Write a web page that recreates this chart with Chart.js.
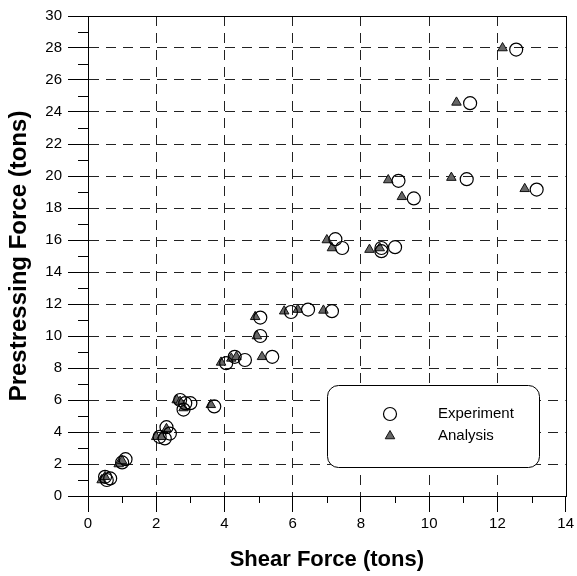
<!DOCTYPE html>
<html>
<head>
<meta charset="utf-8">
<script src="https://cdn.jsdelivr.net/npm/chart.js@4.4.1/dist/chart.umd.min.js"></script>
<style>
  html, body { margin: 0; padding: 0; background: #fff; }
  #wrap { width: 577px; height: 576px; }
</style>
</head>
<body>
<div id="wrap"><canvas id="shearChart" width="577" height="576"></canvas></div>
<script>
// values (tons)
const expShear = [0.5, 0.65, 0.55, 1.0, 1.1, 2.1, 2.25, 2.4, 2.3, 2.7, 2.85, 2.8, 3.0, 3.7,
    4.05, 4.3, 4.6, 5.4, 5.05, 5.05, 5.95, 6.45, 7.15, 7.25, 7.45, 8.6, 8.6, 9.0,
    9.1, 9.55, 11.1, 11.2, 12.55, 13.15];
const expPrestress = [1.2, 1.1, 1.0, 2.1, 2.3, 3.7, 3.6, 3.9, 4.3, 6.0, 5.8, 5.4, 5.8, 5.6,
    8.3, 8.7, 8.5, 8.7, 11.15, 10.0, 11.5, 11.65, 11.55, 16.05, 15.5, 15.5, 15.3, 15.55,
    19.7, 18.6, 19.8, 24.55, 27.9, 19.15];

const anaShear = [0.4, 0.5, 0.9, 1.0, 2.0, 2.15, 2.3, 2.6, 2.7, 2.8, 3.6, 3.9, 4.2, 4.35,
    5.1, 4.9, 4.95, 5.75, 6.15, 6.9, 7.0, 7.15, 8.25, 8.55, 8.8, 9.2, 10.65, 10.8,
    12.15, 12.8];
const anaPrestress = [1.0, 1.2, 2.0, 2.2, 3.7, 3.7, 4.2, 6.0, 5.9, 5.5, 5.7, 8.35, 8.6, 8.7,
    8.7, 11.2, 10.0, 11.55, 11.65, 11.6, 16.0, 15.5, 15.4, 15.5, 19.75, 18.7, 19.9, 24.6,
    28.0, 19.2];

const seriesLabels = ['Experiment', 'Analysis'];
const xMinorTicks = [1, 3, 5, 7, 9, 11, 13];
const yMinorTicks = [1, 3, 5, 7, 9, 11, 13, 15, 17, 19, 21, 23, 25, 27, 29];

const FONT = "'Liberation Sans', Arial, sans-serif";
const TRI_FILL = '#666';
const TRI_EDGE = '#111';

function toPoints(xs, ys) {
    return xs.map((x, i) => ({ x: x, y: ys[i] }));
}

// frame + minor ticks
const framePlugin = {
    id: 'frame',
    afterDraw(chart) {
        const { ctx, chartArea: a, scales } = chart;
        ctx.save();
        ctx.strokeStyle = '#000';
        ctx.lineWidth = 1;
        ctx.setLineDash([]);
        ctx.strokeRect(Math.round(a.left) + 0.5, Math.round(a.top) + 0.5,
            Math.round(a.right - a.left), Math.round(a.bottom - a.top));
        ctx.beginPath();
        xMinorTicks.forEach(v => {
            const px = Math.round(scales.x.getPixelForValue(v)) + 0.5;
            ctx.moveTo(px, a.bottom);
            ctx.lineTo(px, a.bottom + 7);
        });
        yMinorTicks.forEach(v => {
            const py = Math.round(scales.y.getPixelForValue(v)) + 0.5;
            ctx.moveTo(a.left - 10, py);
            ctx.lineTo(a.left, py);
        });
        ctx.stroke();
        ctx.restore();
    }
};

// legend box in lower right, like the original
const boxLegendPlugin = {
    id: 'boxLegend',
    afterDraw(chart) {
        const ctx = chart.ctx;
        const bx = 327.5, by = 385.5, bw = 212, bh = 82, r = 11;
        ctx.save();
        ctx.setLineDash([]);
        ctx.beginPath();
        ctx.roundRect(bx, by, bw, bh, r);
        ctx.fillStyle = '#fff';
        ctx.fill();
        ctx.strokeStyle = '#000';
        ctx.lineWidth = 1;
        ctx.stroke();

        const mx = 390, rows = [414, 436];
        chart.data.datasets.forEach((ds, i) => {
            const y = rows[i];
            ctx.beginPath();
            if (ds.pointStyle === 'circle') {
                ctx.arc(mx, y, ds.pointRadius, 0, Math.PI * 2);
                ctx.strokeStyle = ds.pointBorderColor;
                ctx.lineWidth = ds.pointBorderWidth;
                ctx.stroke();
            } else {
                const s = ds.pointRadius;
                ctx.moveTo(mx, y - s);
                ctx.lineTo(mx + s * 0.866, y + s * 0.5);
                ctx.lineTo(mx - s * 0.866, y + s * 0.5);
                ctx.closePath();
                ctx.fillStyle = ds.pointBackgroundColor;
                ctx.fill();
                ctx.strokeStyle = ds.pointBorderColor;
                ctx.lineWidth = ds.pointBorderWidth;
                ctx.stroke();
            }
            ctx.fillStyle = '#000';
            ctx.font = '15px ' + FONT;
            ctx.textBaseline = 'middle';
            ctx.textAlign = 'left';
            ctx.fillText(ds.label, 438, y);
        });
        ctx.restore();
    }
};

function gridColor(edgeValue) {
    return (c) => (c.tick && (c.tick.value === 0 || c.tick.value === edgeValue)) ? 'rgba(0,0,0,0)' : '#222';
}

const ctx = document.getElementById('shearChart').getContext('2d');
new Chart(ctx, {
    type: 'scatter',
    data: {
        datasets: [{
            label: seriesLabels[0],
            data: toPoints(expShear, expPrestress),
            pointStyle: 'circle',
            pointRadius: 6.5,
            pointBackgroundColor: 'rgba(0,0,0,0)',
            pointBorderColor: '#000',
            pointBorderWidth: 1.2,
            order: 1
        }, {
            label: seriesLabels[1],
            data: toPoints(anaShear, anaPrestress),
            pointStyle: 'triangle',
            pointRadius: 5.5,
            pointBackgroundColor: TRI_FILL,
            pointBorderColor: TRI_EDGE,
            pointBorderWidth: 1,
            order: 2
        }]
    },
    options: {
        responsive: false,
        animation: false,
        events: [],
        layout: {
            autoPadding: false,
            padding: { top: 16, right: 9, bottom: 0, left: 0 }
        },
        plugins: {
            legend: { display: false },
            tooltip: { enabled: false }
        },
        scales: {
            x: {
                type: 'linear',
                min: 0,
                max: 14,
                afterFit: (s) => { s.height = 80; },
                ticks: {
                    stepSize: 2,
                    color: '#000',
                    padding: 3,
                    font: { family: FONT, size: 15 }
                },
                grid: {
                    color: gridColor(14),
                    tickColor: '#000',
                    tickLength: 16,
                    tickBorderDash: [],
                    lineWidth: 1
                },
                border: { display: true, color: '#000', width: 1, dash: [10, 7] },
                title: {
                    display: true,
                    text: 'Shear Force (tons)',
                    color: '#000',
                    padding: { top: 0, bottom: 3 },
                    font: { family: FONT, size: 22, weight: 'bold' }
                }
            },
            y: {
                type: 'linear',
                min: 0,
                max: 30,
                afterFit: (s) => { s.width = 88; },
                ticks: {
                    stepSize: 2,
                    color: '#000',
                    padding: 6,
                    font: { family: FONT, size: 15 }
                },
                grid: {
                    color: gridColor(30),
                    tickColor: '#000',
                    tickLength: 20,
                    tickBorderDash: [],
                    lineWidth: 1
                },
                border: { display: true, color: '#000', width: 1, dash: [10, 7] },
                title: {
                    display: true,
                    text: 'Prestressing Force (tons)',
                    color: '#000',
                    padding: { top: 5, bottom: 0 },
                    font: { family: FONT, size: 24, weight: 'bold' }
                }
            }
        }
    },
    plugins: [framePlugin, boxLegendPlugin]
});
</script>
</body>
</html>
